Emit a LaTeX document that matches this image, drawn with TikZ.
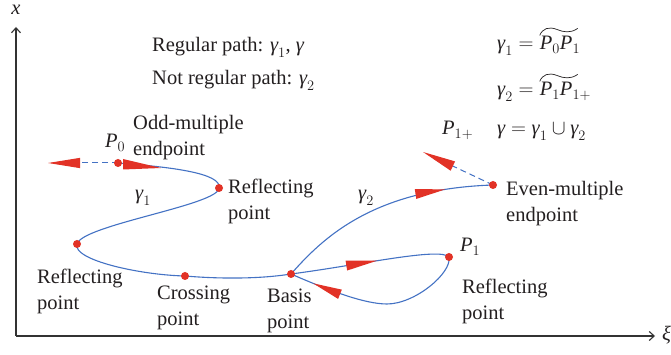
\documentclass[tikz,border=0pt]{standalone}
\usepackage{fontspec}
\setmainfont{Liberation Serif}
\usetikzlibrary{arrows.meta,decorations.markings}
\definecolor{cblue}{RGB}{68,114,196}
\definecolor{cred}{RGB}{226,50,38}
\definecolor{ctext}{RGB}{35,31,32}
\newcommand\gm{\textit{γ}}
\newcommand\iP{\textit{P}}
\newcommand\tildeover[1]{%
  \begin{scope}[shift={(#1.north west)}]
    \draw[ctext,line width=0.7pt] (0,1) .. controls (3,8) and (9,10) .. (17,7)
      .. controls (24,4) and (31,3) .. (38,8);
  \end{scope}}
\pgfdeclarelayer{bg}
\pgfsetlayers{bg,main}
\begin{document}
\begin{tikzpicture}[x=1pt,y=1pt,
  dot/.style={circle,fill=cred,inner sep=0pt,minimum size=8pt},
  curve/.style={cblue,line width=1.1pt},
  dashcurve/.style={curve,line width=1pt,dash pattern=on 6pt off 4pt},
  lbl/.style={font=\fontsize{20.5}{26}\selectfont,text=ctext,inner sep=0pt,align=left,anchor=north west},
  txt/.style={font=\fontsize{20.5}{26}\selectfont,text=ctext,inner sep=0pt,anchor=base west},
  axisline/.style={line width=1.1pt,draw=black!80,-{Straight Barb[length=5pt,width=9pt]}},
  mk/.style 2 args={postaction={decorate},decoration={markings,mark=at position #1 with {\fill[cred] (0,0) -- (-#2,5) -- (-#2,-5) -- cycle;}}}
]
\begin{pgfonlayer}{bg}
\fill[white] (0,0) rectangle (671,355);
\end{pgfonlayer}
\useasboundingbox (0,0) rectangle (671,355);

% axes
\coordinate (O) at (16,19);
\coordinate (xtop) at (16,328);
\coordinate (xiend) at (655,19);
\draw[axisline] (O) -- (xtop);
\draw[axisline] (O) -- (xiend);
\node[txt,anchor=base] (xl) at (16,340) {\textit{x}};
\node[txt] (xil) at (662,14) {\textit{ξ}};

% points
\node[dot] (P0) at (118,192) {};
\node[dot] (R1) at (219,167) {};
\node[dot] (R2) at (77,111) {};
\node[dot] (C) at (185,79) {};
\node[dot] (B) at (291,81) {};
\node[dot] (P1) at (449,98) {};
\node[dot] (E) at (493,170) {};
\coordinate (L) at (48,192);
\coordinate (U) at (423,203);

\begin{pgfonlayer}{bg}
\draw[curve] (P0.center) .. controls (170,188) and (222,182) .. (R1.center);
\draw[curve] (R1.center) .. controls (219,150) and (82,130) .. (R2.center)
   .. controls (72,95) and (140,80) .. (C.center)
   .. controls (220,76) and (260,76) .. (B.center);
\draw[curve, mk={180pt}{30}] (B.center) .. controls (322,116) and (372,166) .. (E.center);
\draw[curve, mk={87pt}{31}] (B.center) .. controls (360,90) and (440,108) .. (P1.center);
\draw[curve, mk={-24pt}{29}] (P1.center) .. controls (452,82) and (415,51) .. (387,51)
   .. controls (365,51) and (330,64) .. (B.center);
\draw[dashcurve, -{Triangle[length=32pt,width=10pt,color=cred]}] (P0.center) -- (L);
\draw[dashcurve, -{Triangle[length=33pt,width=10pt,color=cred]}] (E.center) -- (U);
\end{pgfonlayer}
% wedge leaving P0 along gamma_1
\fill[cred] (161,187) -- (123,185.5) -- (123,196) -- cycle;

% texts
\node[txt] (reg) at (152,303) {Regular path: $\gm_{1}$, \gm};
\node[txt] (nreg) at (152,270) {Not regular path: $\gm_{2}$};
\node[txt] (eq1a) at (497,305) {$\gm_{1}=$};
\node[txt] (eq1b) at ([xshift=6pt]eq1a.base east) {$\iP_{0}\iP_{1}$};
\tildeover{eq1b}
\node[txt] (eq2a) at (497,259) {$\gm_{2}=$};
\node[txt] (eq2b) at ([xshift=6pt]eq2a.base east) {$\iP_{1}\iP_{1+}$};
\tildeover{eq2b}
\node[txt] (eq3) at (497,220) {$\gm=\gm_{1}\cup\gm_{2}$};
\node[txt] (p1p) at (442,220) {$\iP_{1+}$};
\node[txt] (p0l) at (105,207) {$\iP_{0}$};
\node[txt] (p1l) at (460,103) {$\iP_{1}$};
\node[txt] (g1) at (135,155) {$\gm_{1}$};
\node[txt] (g2) at (358,155) {$\gm_{2}$};

\node[lbl] (odd) at (133,240) {Odd-multiple\\endpoint};
\node[lbl] (r1l) at (228,176) {Reflecting\\point};
\node[lbl] (r2l) at (37,86) {Reflecting\\point};
\node[lbl] (cl) at (157,69) {Crossing\\point};
\node[lbl] (bl) at (267,66) {Basis\\point};
\node[lbl] (el) at (506,174) {Even-multiple\\endpoint};
\node[lbl] (r3l) at (462,76) {Reflecting\\point};
\end{tikzpicture}
\end{document}
